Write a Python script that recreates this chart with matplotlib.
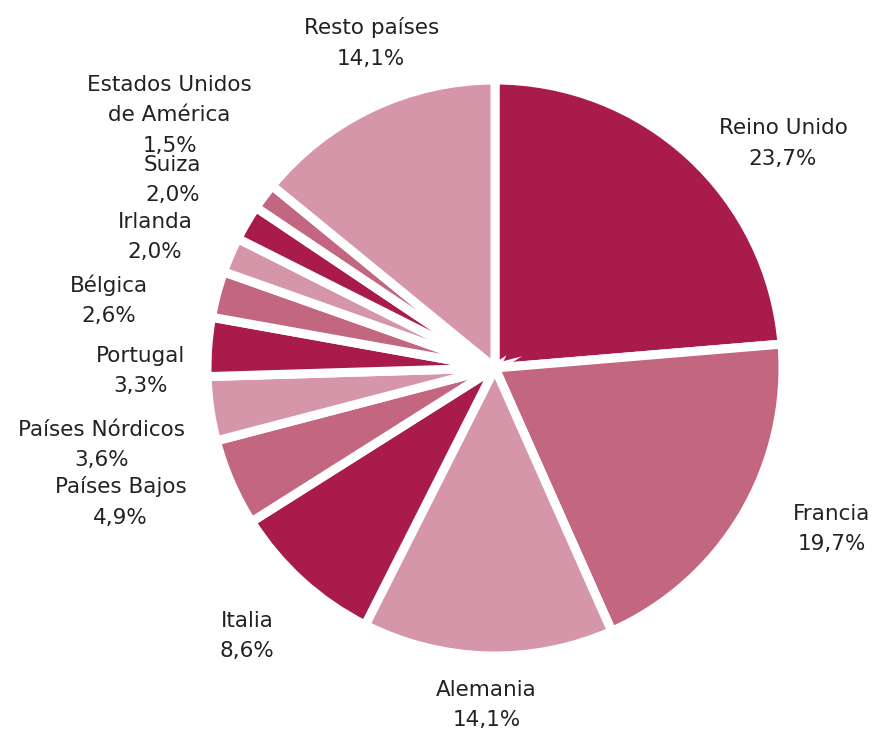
import matplotlib.pyplot as plt

paises = ["Reino Unido", "Francia", "Alemania", "Italia", "Países Bajos",
          "Países Nórdicos", "Portugal", "Bélgica", "Irlanda", "Suiza",
          "Estados Unidos\nde América", "Resto países"]
cuotas = [23.7, 19.7, 14.1, 8.6, 4.9, 3.6, 3.3, 2.6, 2.0, 2.0, 1.5, 14.1]

# label positions in pie-radius units
label_x = [1.00, 1.17, -0.03, -0.86, -1.30, -1.365, -1.23, -1.34, -1.18, -1.12, -1.13, -0.43]
label_y = [0.78, -0.56, -1.17, -0.93, -0.465, -0.267, -0.01, 0.236, 0.455, 0.653, 0.878, 1.128]

oscuro, medio, claro = "#A91B4B", "#C36680", "#D596A9"
colores = [oscuro, medio, claro] * 4

W, H = 878, 736
cx, cy, r = 495, 368, 288

fig = plt.figure(figsize=(W / 100, H / 100), dpi=100)
ax = fig.add_axes([0, 0, 1, 1])

ax.pie(cuotas, colors=colores, startangle=90, counterclock=False,
       radius=1.0, wedgeprops=dict(edgecolor="white", linewidth=6.5))

for nombre, v, x, y in zip(paises, cuotas, label_x, label_y):
    txt = f"{nombre}\n{v:.1f}%".replace(".", ",")
    ax.text(x, y, txt, ha="center", va="center", fontsize=15.5,
            color="#222222", linespacing=1.65, family="DejaVu Sans")

ax.set_xlim(-cx / r, (W - cx) / r)
ax.set_ylim(-cy / r, (H - cy) / r)
ax.set_aspect("equal")
ax.axis("off")

fig.savefig("out.png", dpi=100)
